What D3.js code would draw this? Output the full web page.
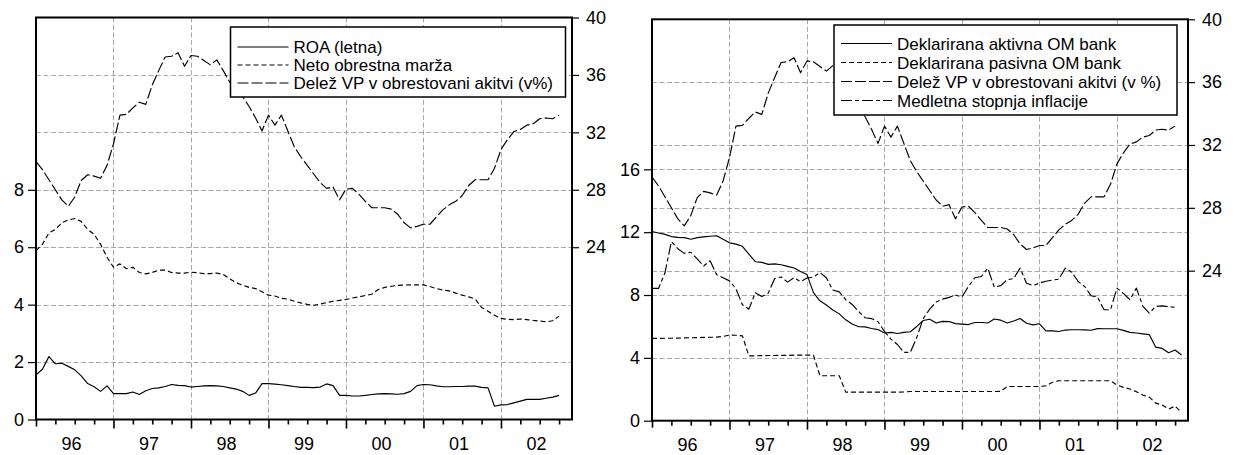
<!DOCTYPE html>
<html>
<head>
<meta charset="utf-8">
<script src="https://cdn.jsdelivr.net/npm/d3@7"></script>
<style>
  html, body { margin: 0; padding: 0; background: #fff; }
  svg { display: block; }
  text { font-family: "Liberation Sans", Arial, sans-serif; fill: #000; }
</style>
</head>
<body>
<svg id="chart" width="1240" height="455"></svg>
<script>
// Monthly observations, 1996M01 onwards
const yearLabels = ["96", "97", "98", "99", "00", "01", "02"];
const monthsOnAxis = 83; // 1996M01 .. 2002M12

// Left panel (left axis)
const roa = [1.56,1.75,2.19,1.94,1.96,1.85,1.73,1.52,1.25,1.14,0.98,1.17,0.90,0.90,0.90,0.96,0.87,1.00,1.08,1.10,
  1.15,1.22,1.19,1.18,1.13,1.15,1.17,1.18,1.17,1.15,1.10,1.06,0.98,0.84,0.92,1.25,1.25,1.23,1.21,1.18,
  1.15,1.12,1.12,1.11,1.13,1.24,1.18,0.84,0.84,0.82,0.82,0.84,0.87,0.89,0.90,0.89,0.88,0.90,0.98,1.18,
  1.22,1.21,1.17,1.14,1.14,1.15,1.15,1.16,1.16,1.12,1.10,0.46,0.51,0.52,0.58,0.64,0.70,0.70,0.70,0.74,
  0.78,0.84];
const netoMarza = [5.88,6.10,6.50,6.62,6.85,6.95,7.00,6.90,6.62,6.45,6.10,5.65,5.30,5.42,5.25,5.30,5.12,5.07,5.12,5.20,
  5.20,5.12,5.10,5.10,5.13,5.11,5.08,5.08,5.10,5.05,4.90,4.76,4.68,4.60,4.56,4.45,4.33,4.30,4.22,4.19,
  4.12,4.06,4.01,3.98,4.02,4.07,4.12,4.15,4.18,4.23,4.27,4.32,4.36,4.53,4.60,4.64,4.67,4.68,4.69,4.69,
  4.69,4.63,4.56,4.51,4.48,4.40,4.33,4.27,4.20,3.90,3.77,3.63,3.52,3.49,3.48,3.50,3.48,3.45,3.43,3.40,
  3.44,3.60];
// Both panels (right axis)
const delezVP = [29.96,29.40,28.70,28.00,27.30,26.85,27.50,28.65,29.05,28.95,28.80,29.70,31.20,33.20,33.25,33.70,34.10,33.95,35.30,36.30,
  37.25,37.30,37.55,36.60,37.35,37.30,37.00,36.70,37.05,36.30,35.50,35.00,34.50,33.80,33.00,32.10,33.20,32.50,33.20,32.10,
  31.00,30.30,29.70,29.10,28.50,28.10,28.20,27.30,28.05,28.10,27.70,27.20,26.75,26.75,26.75,26.65,26.30,25.70,25.35,25.45,
  25.60,25.60,26.10,26.60,26.95,27.20,27.60,28.30,28.70,28.70,28.70,29.50,30.80,31.50,32.05,32.20,32.50,32.60,32.95,33.00,
  32.95,33.20];
// Right panel (left axis)
const aktivnaOM = [12.04,11.95,11.86,11.72,11.67,11.65,11.55,11.65,11.70,11.74,11.77,11.55,11.32,11.24,11.10,10.60,10.12,10.08,9.95,9.98,
  9.93,9.82,9.72,9.50,9.30,8.15,7.63,7.36,7.05,6.80,6.42,6.15,5.98,5.97,5.87,5.80,5.58,5.62,5.55,5.62,
  5.66,6.00,6.38,6.46,6.22,6.32,6.31,6.18,6.15,6.12,6.25,6.25,6.22,6.47,6.40,6.22,6.35,6.50,6.20,6.10,
  6.17,5.72,5.72,5.68,5.77,5.79,5.79,5.78,5.76,5.86,5.85,5.85,5.85,5.75,5.62,5.58,5.53,5.48,4.68,4.60,
  4.33,4.50,4.18];
const pasivnaOM = [5.24,5.24,5.25,5.25,5.26,5.27,5.28,5.29,5.30,5.31,5.32,5.36,5.45,5.44,5.40,4.13,4.13,4.14,4.15,4.15,
  4.16,4.16,4.17,4.17,4.17,4.17,2.86,2.86,2.86,2.86,1.82,1.82,1.82,1.82,1.82,1.82,1.82,1.82,1.82,1.83,
  1.86,1.86,1.86,1.86,1.86,1.86,1.86,1.86,1.86,1.86,1.86,1.86,1.86,1.86,1.87,2.18,2.18,2.18,2.18,2.18,
  2.18,2.22,2.45,2.54,2.54,2.54,2.54,2.54,2.54,2.54,2.54,2.54,2.27,2.12,2.02,1.85,1.63,1.50,1.12,1.00,
  0.74,0.93,0.51];
const inflacija = [8.42,8.42,9.40,11.40,10.95,10.65,10.72,10.30,9.85,10.18,9.30,9.10,8.90,8.40,7.38,7.10,8.15,7.90,8.12,9.05,
  9.15,8.82,9.10,8.85,9.08,9.14,9.43,9.10,8.32,8.20,7.70,7.40,6.95,6.55,6.50,6.30,5.68,5.19,4.85,4.35,
  4.35,5.30,6.50,7.10,7.55,7.74,7.85,8.00,7.87,8.55,9.10,9.18,9.71,8.50,8.60,8.97,9.05,9.71,8.75,8.60,
  8.76,8.88,8.95,9.01,9.71,9.45,8.86,8.54,7.95,7.87,7.06,7.06,8.44,8.10,7.70,8.44,7.30,6.85,7.27,7.31,
  7.25,7.22];

const leftLegend = ["ROA (letna)", "Neto obrestna marža", "Delež VP v obrestovani akitvi (v%)"];
const rightLegend = ["Deklarirana aktivna OM bank", "Deklarirana pasivna OM bank",
  "Delež VP v obrestovani akitvi (v %)", "Medletna stopnja inflacije"];

const DASH = { solid: null, short: "5,3", long: "11,3", dashdot: "11,3,4,3" };

const svg = d3.select("#chart");

function drawPanel(cfg) {
  const g = svg.append("g");
  const x = d3.scaleLinear().domain([0, monthsOnAxis]).range([cfg.x0, cfg.x1]);
  const yL = d3.scaleLinear().domain(cfg.leftDomain).range([cfg.y1, cfg.y0]);
  const yR = d3.scaleLinear().domain(cfg.rightDomain).range([cfg.y1, cfg.y0]);

  // grid
  const grid = g.append("g").attr("stroke", "#a8a8a8").attr("stroke-width", 1)
    .attr("stroke-dasharray", "5,2.5").attr("fill", "none");
  cfg.leftTicks.filter(t => t > cfg.leftDomain[0]).forEach(t => {
    const yy = Math.round(yL(t)) + 0.5;
    grid.append("line").attr("x1", cfg.x0).attr("x2", cfg.x1).attr("y1", yy).attr("y2", yy);
  });
  cfg.rightTicks.filter(t => t < cfg.rightDomain[1] - 0.01).forEach(t => {
    const yy = Math.round(yR(t)) + 0.5;
    grid.append("line").attr("x1", cfg.x0).attr("x2", cfg.x1).attr("y1", yy).attr("y2", yy);
  });
  for (let m = 12; m < monthsOnAxis; m += 12) {
    const xx = Math.round(x(m)) + 0.5;
    grid.append("line").attr("x1", xx).attr("x2", xx).attr("y1", cfg.y0).attr("y2", cfg.y1);
  }

  // series
  cfg.series.forEach(s => {
    const ys = s.axis === "left" ? yL : yR;
    const line = d3.line().x((d, i) => x(i)).y(d => ys(d));
    g.append("path").datum(s.values)
      .attr("d", line).attr("fill", "none").attr("stroke", "#000")
      .attr("stroke-width", 1.15).attr("stroke-linejoin", "round")
      .attr("stroke-dasharray", DASH[s.dash]);
  });

  // legend
  const lg = g.append("g");
  lg.append("rect").attr("x", cfg.legend.x).attr("y", cfg.legend.y)
    .attr("width", cfg.legend.w).attr("height", cfg.legend.h)
    .attr("fill", "#fff").attr("stroke", "#000").attr("stroke-width", 1.5);
  cfg.series.forEach((s, k) => {
    const cy = cfg.legend.rowY + k * cfg.legend.rowStep;
    lg.append("line").attr("x1", cfg.legend.x + 7).attr("x2", cfg.legend.x + 58)
      .attr("y1", cy).attr("y2", cy).attr("stroke", "#000").attr("stroke-width", 1.15)
      .attr("stroke-dasharray", DASH[s.dash]);
    lg.append("text").attr("x", cfg.legend.x + 63).attr("y", cy + 6)
      .attr("font-size", 17).text(s.label);
  });

  // frame
  g.append("rect").attr("x", cfg.x0).attr("y", cfg.y0)
    .attr("width", cfg.x1 - cfg.x0).attr("height", cfg.y1 - cfg.y0)
    .attr("fill", "none").attr("stroke", "#000").attr("stroke-width", 2);

  // left axis
  const axL = g.append("g").attr("transform", `translate(${cfg.x0},0)`)
    .call(d3.axisLeft(yL).tickValues(cfg.leftTicks).tickSize(8).tickPadding(4).tickFormat(d3.format("d")));
  // right axis
  const axR = g.append("g").attr("transform", `translate(${cfg.x1},0)`)
    .call(d3.axisRight(yR).tickValues(cfg.rightTicks).tickSize(7).tickPadding(7).tickFormat(d3.format("d")));
  [axL, axR].forEach(a => {
    a.select(".domain").remove();
    a.selectAll(".tick line").attr("stroke", "#000").attr("stroke-width", 1.2);
    a.selectAll(".tick text").attr("font-size", 18).attr("font-family", "Liberation Sans, Arial, sans-serif");
  });

  // bottom axis: quarterly ticks, longer at year starts
  const qTicks = d3.range(0, monthsOnAxis, 3);
  const axB = g.append("g").attr("transform", `translate(0,${cfg.y1})`)
    .call(d3.axisBottom(x).tickValues(qTicks).tickSize(5).tickFormat(""));
  axB.select(".domain").remove();
  axB.selectAll(".tick line")
    .attr("y2", d => d === 0 ? 7 : (d % 12 === 0 ? 9 : 5))
    .attr("stroke", "#000").attr("stroke-width", 1.6);
  const yb = g.append("g");
  yearLabels.forEach((lab, k) => {
    yb.append("text").attr("x", x(k * 12 + 5.5)).attr("y", cfg.y1 + 30)
      .attr("text-anchor", "middle").attr("font-size", 18).text(lab);
  });
}

drawPanel({
  x0: 36, x1: 572, y0: 17.5, y1: 419.5,
  leftDomain: [0, 14], rightDomain: [12, 40],
  leftTicks: [0, 2, 4, 6, 8], rightTicks: [24, 28, 32, 36, 40],
  series: [
    { label: leftLegend[0], values: roa, axis: "left", dash: "solid" },
    { label: leftLegend[1], values: netoMarza, axis: "left", dash: "short" },
    { label: leftLegend[2], values: delezVP, axis: "right", dash: "long" }
  ],
  legend: { x: 230.5, y: 27, w: 335, h: 70, rowY: 47, rowStep: 18 }
});

drawPanel({
  x0: 652, x1: 1188, y0: 19.3, y1: 420.7,
  leftDomain: [0, 25.55], rightDomain: [14.45, 40],
  leftTicks: [0, 4, 8, 12, 16], rightTicks: [24, 28, 32, 36, 40],
  series: [
    { label: rightLegend[0], values: aktivnaOM, axis: "left", dash: "solid" },
    { label: rightLegend[1], values: pasivnaOM, axis: "left", dash: "short" },
    { label: rightLegend[2], values: delezVP, axis: "right", dash: "long" },
    { label: rightLegend[3], values: inflacija, axis: "left", dash: "dashdot" }
  ],
  legend: { x: 834, y: 25, w: 343, h: 90, rowY: 43.5, rowStep: 19 }
});
</script>
</body>
</html>
